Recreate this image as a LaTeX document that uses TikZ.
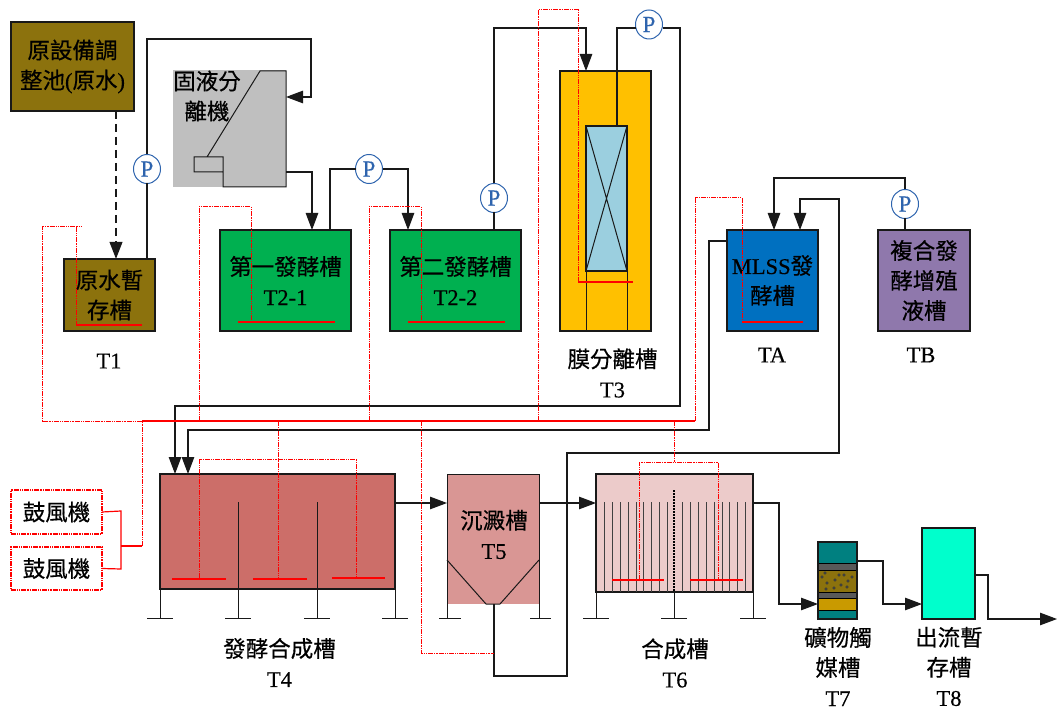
\documentclass[tikz,border=0pt]{standalone}
\usepackage{fontspec}
\setmainfont{Liberation Serif}[RawFeature={embolden=0.4}]
\newfontfamily\cjkf{Noto Sans CJK TC}[RawFeature={embolden=0.5}]
\usetikzlibrary{arrows.meta,shapes.geometric,calc}
\newcommand{\zh}[1]{{\cjkf #1}}
\definecolor{olive}{HTML}{8C720D}
\definecolor{sepgray}{HTML}{BFBFBF}
\definecolor{tgreen}{HTML}{00B050}
\definecolor{tgold}{HTML}{FFC000}
\definecolor{tmem}{HTML}{9BCFDF}
\definecolor{tblue}{HTML}{0070C0}
\definecolor{tpurple}{HTML}{8F78AC}
\definecolor{tfour}{HTML}{CC6E69}
\definecolor{tfive}{HTML}{D99694}
\definecolor{tsix}{HTML}{ECCBCA}
\definecolor{ttur}{HTML}{00FFCC}
\definecolor{tteal}{HTML}{008080}
\definecolor{tdark}{HTML}{595959}
\definecolor{tochre}{HTML}{C99A00}
\definecolor{pblue}{HTML}{2E64AE}
\tikzset{
  lab/.style={font=\fontsize{22.5}{30}\selectfont,align=center,inner sep=0pt,text=black},
  tankbox/.style={lab,draw=black!90,line width=1.1pt,inner sep=0pt,outer sep=0pt},
  pump/.style={ellipse,draw=pblue,fill=white,line width=1pt,minimum width=27pt,minimum height=29pt,inner sep=0pt,outer sep=0pt,text=pblue,font=\fontsize{23}{23}\selectfont},
  pipe/.style={draw=black!90,line width=1.1pt},
  flow/.style={pipe,-{Triangle[length=17pt,width=12.5pt]}},
  air/.style={draw=red,line width=1pt,dash pattern=on 5pt off 1pt on 1.2pt off 1pt on 1.2pt off 1pt},
  diff/.style={draw=red,line width=1.2pt},
  blower/.style={lab,draw=red,line width=1.1pt,dash pattern=on 5pt off 1pt on 1.2pt off 1pt on 1.2pt off 1pt,outer sep=0pt},
  fine/.style={draw=black!90,line width=1pt},
  rock/.style={draw=black,fill=white,line width=.5pt}
}
\newcommand{\tank}[7]{\node[tankbox,fill=#6,minimum width={(#4-#2)*1pt},minimum height={(#5-#3)*1pt}] (#1) at ({(#2+#4)/2},{(#3+#5)/2}) {#7};}
\newcommand{\layer}[3]{\fill[#3] (818,#1) rectangle (857,#2); \draw[black,line width=.9pt] (818,#1) -- (857,#1) (818,#2) -- (857,#2);}
\newcommand{\foot}[3]{\draw[fine] (#1,#2) -- (#1,618); \draw[fine] (#1-#3,618) -- (#1+#3,618);}
\begin{document}
\begin{tikzpicture}[x=1pt,y=-1pt]
\useasboundingbox (0,0) rectangle (1057,711);

% tanks
\tank{src}{11}{22}{134}{111}{olive}{\zh{原設備調}\\\zh{整池}(\zh{原水})}
\tank{t1}{64}{259}{155}{331}{olive}{\zh{原水暫}\\\zh{存槽}}
\tank{t21}{220}{230}{351}{331}{tgreen}{\zh{第一發酵槽}\\T2-1}
\tank{t22}{390}{230}{521}{331}{tgreen}{\zh{第二發酵槽}\\T2-2}
\tank{t3}{560}{71}{651}{331}{tgold}{}
\tank{mem}{586}{126}{627}{271}{tmem}{}
\tank{ta}{727}{230}{818}{331}{tblue}{MLSS\zh{發}\\\zh{酵槽}}
\tank{tb}{878}{230}{970}{331}{tpurple}{\zh{複合發}\\\zh{酵增殖}\\\zh{液槽}}
\tank{t4}{160}{474}{395}{589}{tfour}{}
\tank{t6}{596}{474}{753}{592}{tsix}{}

% solid-liquid separator
\node[fill=sepgray,inner sep=0pt,outer sep=0pt,minimum width=113pt,minimum height=117pt] (sep) at (229.5,128.5) {};
\draw[fine] (207,157) -- (260,71) -- (286,71) -- (286,187) -- (223,187) -- (223,172) -- (194,172) -- (194,157) -- (223,157) -- (223,172);
\node[lab] (seplabel) at (207,96) {\zh{固液分}\\\zh{離機}};

% membrane tank interior
\draw[fine] (mem.north west) -- (mem.south east) (mem.north east) -- (mem.south west);
\draw[fine] (mem.south west) -- (586,331) (mem.south east) -- (627,331);

% settling tank
\node[fill=tfive,inner sep=0pt,outer sep=0pt,minimum width=92pt,minimum height=130pt] (t5) at (493,539) {};
\draw[fine] (447,618) -- (447,474) -- (539,474) -- (539,618);
\draw[fine] (447,560) -- (486,604) -- (500,604) -- (539,560);
\draw[fine] (439,618) -- (461,618) (530,618) -- (551,618);
\node[lab] (t5label) at (494,534.5) {\zh{沉澱槽}\\T5};

% T4 interior and legs
\draw[fine] (238,502) -- (238,589) (317,502) -- (317,589);
\foot{160}{589}{13}\foot{238}{589}{13}\foot{317}{589}{13}\foot{395}{589}{13}

% T6 interior and legs
\foreach \x in {604,612,620,628,636,643,651,659,667,682,690,698,706,714,722,729,737,745}
  \draw[black!75,line width=1pt] (\x,502) -- (\x,592);
\draw[black,line width=2pt,dash pattern=on 2pt off 1pt] (674,490) -- (674,592);
\foot{596}{592}{13}\foot{674}{592}{13}\foot{753}{592}{13}

% T7
\layer{542}{563}{tteal}
\layer{563}{570}{tdark}
\layer{570}{592}{olive}
\layer{592}{598}{tdark}
\layer{598}{610}{tochre}
\layer{610}{619}{tteal}
\foreach \a/\b in {825/573,839/575,852/577,827/583,835/580,847/587,834/588,826/589,848/581,841/585,822/577,844/575}
  \draw[rock] (\a,\b) circle (1.3pt);
\node[draw=black!90,line width=1.1pt,inner sep=0pt,outer sep=0pt,minimum width=39pt,minimum height=77pt] (t7) at (837.5,580.5) {};

% T8
\tank{t8}{922}{528}{975}{619}{ttur}{}

% pumps
\node[pump] (p1) at (147,169) {P};
\node[pump] (p2) at (369,169) {P};
\node[pump] (p3) at (494,198) {P};
\node[pump] (p4) at (649,24.5) {P};
\node[pump] (p5) at (905,204) {P};

% black pipes
\coordinate (sepin) at (286,97);
\coordinate (sepout) at (286,172);
\coordinate (outlet) at (1057,619);
\draw[flow,line width=2.3pt,dash pattern=on 8pt off 5pt] (116,111) -- (t1.north -| 116,0);
\draw[pipe] (t1.north -| p1) -- (p1);
\draw[flow] (p1) -- (147,39) -- (311,39) -- (311,97) -- (sepin);
\draw[flow] (sepout) -- (312,172) -- (t21.north -| 312,0);
\draw[pipe] (t21.north -| 330,0) -- (330,169) -- (p2);
\draw[flow] (p2) -- (408,169) -- (t22.north -| 408,0);
\draw[pipe] (t22.north -| p3) -- (p3);
\draw[flow] (p3) -- (494,28) -- (586,28) -- (t3.north -| 586,0);
\draw[pipe] (mem.north -| 617,0) -- (617,28) -- (p4.west |- 0,28);
\draw[flow] (p4.east |- 0,28) -- (680,28) -- (680,406) -- (175,406) -- (t4.north -| 175,0);
\draw[flow] (ta.north west |- 0,241) -- (709,241) -- (709,430) -- (188,430) -- (t4.north -| 188,0);
\draw[flow] (494,604) -- (494,676) -- (567,676) -- (567,453) -- (839,453) -- (839,199) -- (800,199) -- (ta.north -| 800,0);
\draw[pipe] (tb.north -| p5) -- (p5);
\draw[flow] (p5) -- (905,178) -- (774,178) -- (ta.north -| 774,0);
\draw[flow] (t4.east |- 0,503) -- (t5.west |- 0,503);
\draw[flow] (t5.east |- 0,503) -- (t6.west |- 0,503);
\draw[flow] (t6.east |- 0,503) -- (779,503) -- (779,604) -- (t7.west |- 0,604);
\draw[flow] (t7.east |- 0,561) -- (883,561) -- (883,604) -- (t8.west |- 0,604);
\draw[flow] (t8.east |- 0,575) -- (988,575) -- (988,619) -- (outlet);

% blowers
\node[blower,minimum width=91pt,minimum height=44pt] (b1) at (56.5,512) {\zh{鼓風機}};
\node[blower,minimum width=91pt,minimum height=43pt] (b2) at (56.5,568.5) {\zh{鼓風機}};
\draw[diff] (b1.east) -- (121,511) -- (121,569) -- (b2.east);

% air lines
\draw[diff] (142,421) -- (695,421);
\draw[air] (142,546) -- (142,421);
\draw[diff] (121,546) -- (142,546);
\draw[air] (142,421) -- (42,421) -- (42,227) -- (82,227);
\draw[air] (76,227) -- (76,325);
\draw[air] (199,421) -- (199,207) -- (251,207) -- (251,322);
\draw[air] (369,421) -- (369,207) -- (421,207) -- (421,322);
\draw[air] (538,421) -- (538,10) -- (578,10) -- (578,282);
\draw[air] (695,421) -- (695,198) -- (742,198) -- (742,322);
\draw[air] (278,421) -- (278,578);
\draw[air] (199,578) -- (199,459) -- (356,459) -- (356,577);
\draw[air] (421,421) -- (421,653) -- (494,653);
\draw[air] (674,421) -- (674,462);
\draw[air] (639,580) -- (639,462) -- (718,462) -- (718,580);
% diffusers
\draw[diff] (76,325) -- (142,325);
\draw[diff] (238,322) -- (335,322);
\draw[diff] (408,322) -- (505,322);
\draw[diff] (578,282) -- (633,282);
\draw[diff] (742,322) -- (803,322);
\draw[diff] (172,579) -- (226,579) (253,579) -- (307,579) (332,578) -- (385,578);
\draw[diff] (612,580) -- (664,580) (690,580) -- (743,580);

% labels
\node[lab] (lt1) at (109,361) {T1};
\node[lab] (lt3) at (612.5,373) {\zh{膜分離槽}\\T3};
\node[lab] (lta) at (772,355) {TA};
\node[lab] (ltb) at (921,355) {TB};
\node[lab] (lt4) at (279.5,662.5) {\zh{發酵合成槽}\\T4};
\node[lab] (lt6) at (675,663) {\zh{合成槽}\\T6};
\node[lab] (lt7) at (838,666.5) {\zh{礦物觸}\\\zh{媒槽}\\T7};
\node[lab] (lt8) at (949,666.5) {\zh{出流暫}\\\zh{存槽}\\T8};
\end{tikzpicture}
\end{document}
